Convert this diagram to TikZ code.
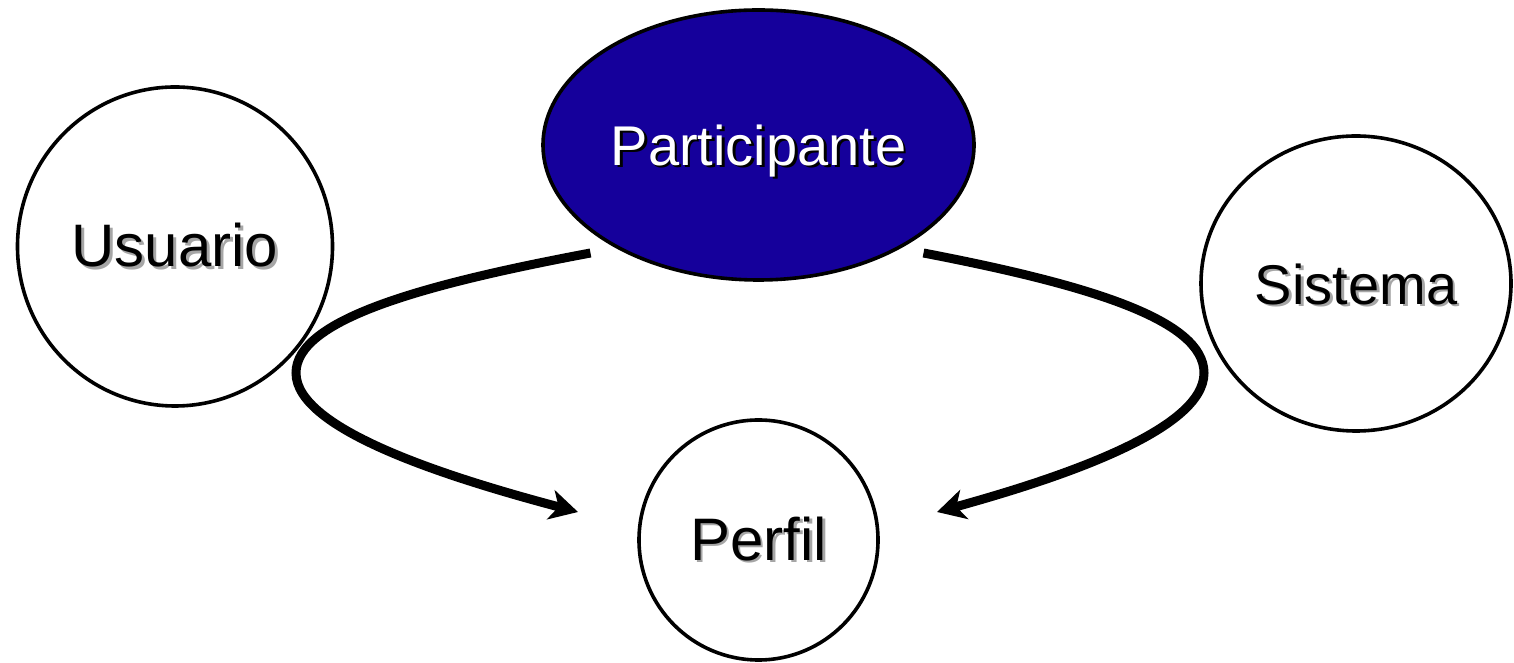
\documentclass[tikz,border=0pt]{standalone}
\usepackage{fontspec}
\setmainfont{Liberation Sans}
\usepackage{xcolor}
\usetikzlibrary{shapes,arrows.meta,positioning}
\definecolor{partblue}{RGB}{21,0,155}
\newcommand{\sombra}[2]{\rlap{\kern1.4pt\raisebox{-1.4pt}{\textcolor{#1}{#2}}}#2}

\begin{document}
\begin{tikzpicture}[x=0.5pt,y=0.5pt,
  ent/.style={ellipse, draw, line width=1.8pt, inner sep=0pt},
  flecha/.style={line width=4.5pt, -{Stealth[length=14pt,width=15pt,inset=4pt]}}]
\useasboundingbox (0,0) rectangle (1514,663);

% Entities
\node[ent, minimum width=157.5pt, minimum height=159.5pt, font=\fontsize{30}{36}\selectfont] (usu) at (175,416.5) {\sombra{black!35}{Usuario}};
\node[ent, fill=partblue, text=white, minimum width=215.5pt, minimum height=135pt, font=\fontsize{28}{34}\selectfont] (part) at (758.5,518) {\raisebox{-3.5pt}[\height][\depth]{\sombra{black}{Participante}}};
\node[ent, minimum width=155pt, minimum height=147.5pt, font=\fontsize{28}{34}\selectfont] (sis) at (1356,379.5) {\raisebox{-1pt}[\height][\depth]{\sombra{black!35}{Sistema}}};
\node[ent, minimum width=119.5pt, minimum height=120pt, font=\fontsize{30}{36}\selectfont] (perf) at (758.5,123) {\sombra{black!35}{Perfil}};

% Arrow ends
\coordinate (izqA) at ([shift={(-168,-108)}]part.center);
\coordinate (derA) at ([shift={(165,-108)}]part.center);
\coordinate (izqB) at ([shift={(-180.5,28)}]perf.center);
\coordinate (derB) at ([shift={(178.5,28)}]perf.center);

% Arrows
\draw[flecha] (izqA) .. controls (420,378) and (296,343) .. (296,290) .. controls (296,233) and (450,185) .. (izqB);
\draw[flecha] (derA) .. controls (1090,378) and (1204,343) .. (1204,290) .. controls (1204,233) and (1060,185) .. (derB);
\end{tikzpicture}
\end{document}
